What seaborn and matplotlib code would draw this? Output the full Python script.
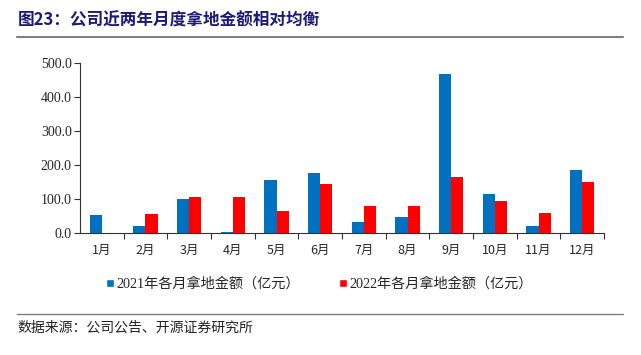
import seaborn as sb
import pandas as pd
import numpy as np
import matplotlib.pyplot as plt
from matplotlib.lines import Line2D

# monthly land acquisition amount (亿元)
months = ['1月', '2月', '3月', '4月', '5月', '6月', '7月', '8月', '9月', '10月', '11月', '12月']
amount_2021 = [52, 21, 101, 4, 156, 176, 31, 46, 467, 115, 21, 184]
amount_2022 = [0, 57, 105, 105, 66, 145, 80, 80, 164, 93, 60, 150]
series_names = ['2021年各月拿地金额（亿元）', '2022年各月拿地金额（亿元）']
colors = ['#0070C0', '#FF0000']

df = pd.DataFrame({
    'month': months * 2,
    'value': amount_2021 + amount_2022,
    'series': [series_names[0]] * 12 + [series_names[1]] * 12,
})

sb.set_style('white')
plt.rcParams['font.family'] = ['Liberation Serif', 'Noto Sans CJK SC']

fig = plt.figure(figsize=(6.41, 3.55), dpi=100)
ax = fig.add_axes([0.1248, 0.3437, 0.8175, 0.4797])

sb.barplot(data=df, x='month', y='value', hue='series', palette=colors,
           width=0.56, gap=0, ax=ax, legend=False, edgecolor='none', saturation=1)

ax.set_ylim(0, 500)
ax.set_xlim(-0.5, 11.5)
ax.set_yticks(np.arange(0, 501, 100))
ax.set_yticklabels([f'{v:.1f}' for v in np.arange(0, 501, 100)], fontsize=10)
ax.set_xticks(range(12))
ax.set_xticklabels(months, fontsize=9, family=['Noto Sans CJK SC'])
ax.set_xticks(np.arange(0.5, 12, 1), minor=True)
ax.tick_params(axis='x', which='major', length=0, pad=8)
ax.tick_params(axis='x', which='minor', length=4, width=0.8, color='#333333', direction='out', bottom=True)
ax.tick_params(axis='y', length=4, width=0.8, color='#333333', direction='out', left=True, pad=2)
ax.set_xlabel('')
ax.set_ylabel('')
for s in ['top', 'right']:
    ax.spines[s].set_visible(False)
for s in ['left', 'bottom']:
    ax.spines[s].set_color('#333333')
    ax.spines[s].set_linewidth(0.8)

# legend
handles = [Line2D([], [], marker='s', color='w', markerfacecolor=c, markersize=6, linestyle='')
           for c in colors]
fig.legend(handles, series_names, loc='center', bbox_to_anchor=(0.497, 0.2), ncol=2,
           frameon=False, handletextpad=0.05, columnspacing=2.6,
           handlelength=0.8, prop={'family': ['Liberation Serif', 'Noto Sans CJK SC'], 'size': 10.2})

# title, rules and source
fig.text(0.027, 0.943, '图23：公司近两年月度拿地金额相对均衡', fontsize=12, fontweight='bold',
         color='#1C1C78', va='center', family=['Noto Sans CJK SC'])
fig.add_artist(Line2D([0.027, 0.972], [0.896, 0.896], color='#7F7F7F', linewidth=1.5))
fig.add_artist(Line2D([0.027, 0.972], [0.116, 0.116], color='#7F7F7F', linewidth=1.0))
fig.text(0.027, 0.076, '数据来源：公司公告、开源证券研究所', fontsize=10, color='#222222',
         va='center', family=['Noto Sans CJK SC'])

fig.savefig('out.png', dpi=100, facecolor='white')
